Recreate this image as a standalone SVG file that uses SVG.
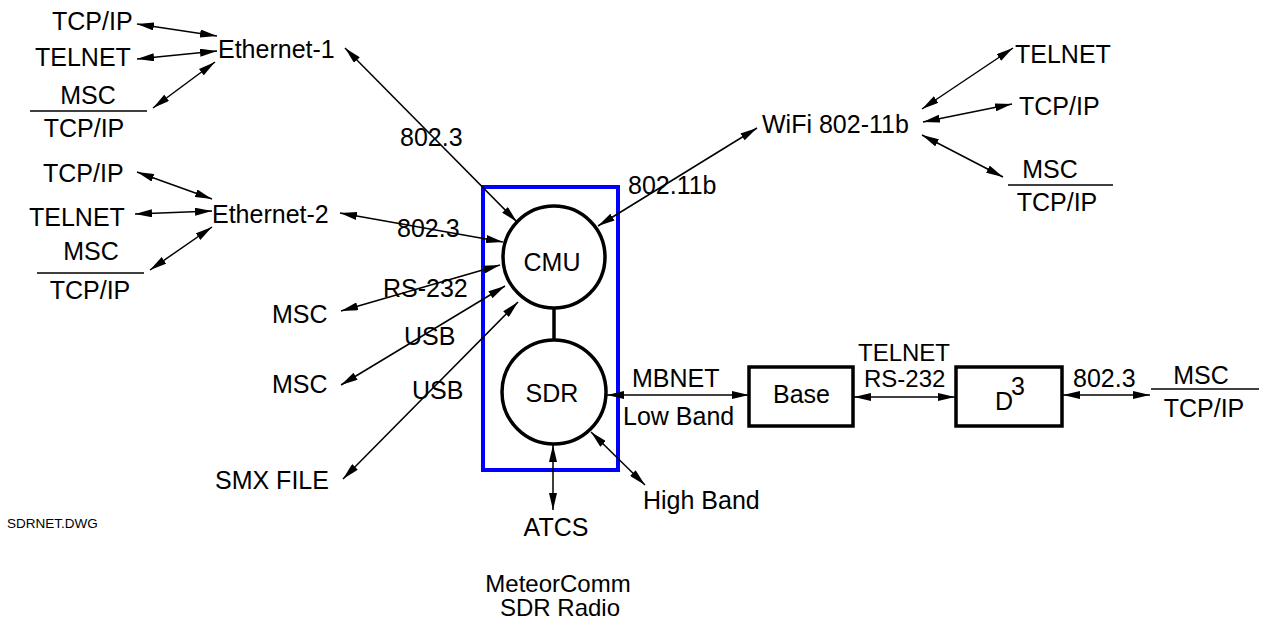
<svg xmlns="http://www.w3.org/2000/svg" width="1262" height="621" viewBox="0 0 1262 621">
<style>
text{font-family:"Liberation Sans",Arial,sans-serif;font-size:25px;fill:#000}
.small{font-size:13.5px}
.mid{text-anchor:middle}
.c{fill:#fff;stroke:#000;stroke-width:3.5}
.box{fill:#fff;stroke:#000;stroke-width:3.5}
.frame{fill:none;stroke:#0000ff;stroke-width:4}
.l{stroke:#000;stroke-width:1.5;fill:none}
.a{stroke:#000;stroke-width:1.5;fill:none;marker-start:url(#ah);marker-end:url(#ah)}
.rule{stroke:#000;stroke-width:1.3}
.tight{font-size:24px}
</style>
<defs>
<marker id="ah" viewBox="0 0 17 8" refX="17" refY="4" markerWidth="17" markerHeight="8" markerUnits="userSpaceOnUse" orient="auto-start-reverse">
<path d="M0,0 L17,4 L0,8 z" fill="#000"/>
</marker>
</defs>
<rect width="1262" height="621" fill="#fff"/>

<g id="radio-frame">
<rect class="frame" x="483" y="187" width="135" height="283"/>
</g>

<g id="connectors">
<line class="a" x1="137" y1="24" x2="217" y2="36"/>
<line class="a" x1="137" y1="59" x2="217" y2="51"/>
<line class="a" x1="153" y1="108" x2="215" y2="62"/>
<line class="a" x1="345" y1="48" x2="517" y2="222"/>
<line class="a" x1="137" y1="172" x2="212" y2="199"/>
<line class="a" x1="135" y1="214" x2="212" y2="211"/>
<line class="a" x1="150" y1="270" x2="212" y2="227"/>
<line class="a" x1="340" y1="213" x2="503" y2="242"/>
<line class="a" x1="341" y1="311" x2="500" y2="265"/>
<line class="a" x1="341" y1="385" x2="505" y2="286"/>
<line class="a" x1="343" y1="479" x2="518" y2="302"/>
<line class="a" x1="598" y1="226" x2="757" y2="128"/>
<line class="a" x1="922" y1="109" x2="1013" y2="48"/>
<line class="a" x1="923" y1="122" x2="1012" y2="104"/>
<line class="a" x1="922" y1="135" x2="1003" y2="177"/>
<line x1="554" y1="307" x2="554" y2="340" stroke="#000" stroke-width="3.5"/>
<line class="a" x1="607" y1="395" x2="749" y2="395"/>
<line class="a" x1="854" y1="397" x2="955" y2="397"/>
<line class="a" x1="1063" y1="395" x2="1150" y2="395"/>
<line class="a" x1="553" y1="445" x2="553" y2="510"/>
<line class="a" x1="591" y1="432" x2="645" y2="485"/>
</g>

<g id="connector-labels">
<text x="400" y="146">802.3</text>
<text x="397" y="237">802.3</text>
<text x="383" y="297">RS-232</text>
<text x="404" y="345">USB</text>
<text x="412" y="399">USB</text>
<text x="628" y="194">802.11b</text>
<text x="632" y="387">MBNET</text>
<text x="623" y="425">Low Band</text>
<text class="tight" x="858" y="361">TELNET</text>
<text class="tight" x="864" y="387">RS-232</text>
<text x="1073" y="387">802.3</text>
</g>

<g id="cmu">
<circle class="c" cx="554" cy="257" r="51"/>
<text class="mid" x="552" y="271">CMU</text>
</g>

<g id="sdr">
<circle class="c" cx="554" cy="392" r="52"/>
<text class="mid" x="552" y="402">SDR</text>
</g>

<g id="ethernet-1"><text x="218" y="58">Ethernet-1</text></g>
<g id="eth1-tcpip"><text x="52" y="30">TCP/IP</text></g>
<g id="eth1-telnet"><text x="35" y="66">TELNET</text></g>
<g id="eth1-msc-tcpip">
<text class="mid" x="88" y="104">MSC</text>
<line class="rule" x1="30" y1="111" x2="147" y2="111"/>
<text class="mid" x="84" y="137">TCP/IP</text>
</g>

<g id="ethernet-2"><text x="212" y="223">Ethernet-2</text></g>
<g id="eth2-tcpip"><text x="43" y="182">TCP/IP</text></g>
<g id="eth2-telnet"><text x="29" y="226">TELNET</text></g>
<g id="eth2-msc-tcpip">
<text class="mid" x="91" y="260">MSC</text>
<line class="rule" x1="37" y1="273" x2="144" y2="273"/>
<text class="mid" x="90" y="299">TCP/IP</text>
</g>

<g id="msc-rs232"><text x="272" y="323">MSC</text></g>
<g id="msc-usb"><text x="272" y="393">MSC</text></g>
<g id="smx-file"><text x="215" y="489">SMX FILE</text></g>

<g id="wifi"><text x="762" y="133">WiFi 802-11b</text></g>
<g id="wifi-telnet"><text x="1015" y="63">TELNET</text></g>
<g id="wifi-tcpip"><text x="1019" y="115">TCP/IP</text></g>
<g id="wifi-msc-tcpip">
<text class="mid" x="1050" y="178">MSC</text>
<line class="rule" x1="1008" y1="185" x2="1113" y2="185"/>
<text class="mid" x="1057" y="211">TCP/IP</text>
</g>

<g id="base">
<rect class="box" x="749" y="367" width="104" height="59"/>
<text x="773" y="403">Base</text>
</g>

<g id="d3">
<rect class="box" x="956" y="367" width="106" height="59"/>
<text x="995" y="410">D</text>
<text x="1011" y="395">3</text>
</g>

<g id="d3-msc-tcpip">
<text class="mid" x="1201" y="384">MSC</text>
<line class="rule" x1="1151" y1="389" x2="1259" y2="389"/>
<text class="mid" x="1204" y="417">TCP/IP</text>
</g>

<g id="atcs"><text class="mid" x="556" y="536">ATCS</text></g>
<g id="high-band"><text x="643" y="509">High Band</text></g>

<g id="title">
<text class="mid tight" x="558" y="592">MeteorComm</text>
<text class="mid tight" x="560" y="616">SDR Radio</text>
</g>

<g id="drawing-name"><text class="small" x="7" y="528">SDRNET.DWG</text></g>
</svg>
